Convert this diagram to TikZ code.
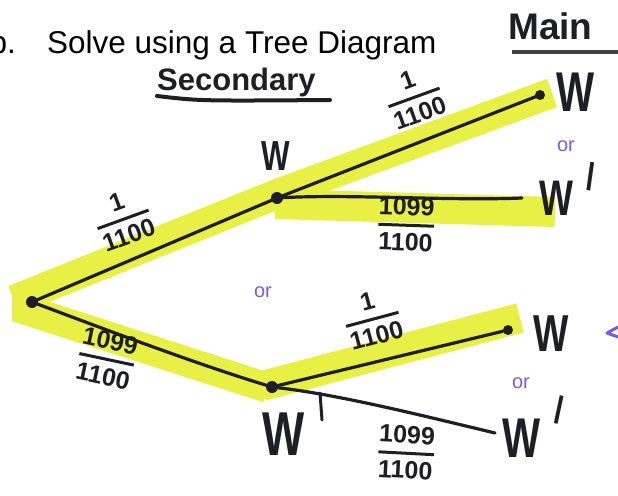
\documentclass[tikz,border=0pt]{standalone}
\usepackage{fontspec}
\setmainfont{Liberation Sans}
\definecolor{hl}{RGB}{232,240,70}
\definecolor{ink}{RGB}{30,30,38}
\definecolor{pur}{RGB}{125,90,215}
\newcommand{\hfr}[2]{{\setlength{\arrayrulewidth}{3pt}\setlength{\tabcolsep}{0pt}\begin{tabular}{@{}c@{}}#1\\[1pt]\hline\rule{0pt}{24pt}#2\end{tabular}}}
\newcommand{\hW}[1]{\scalebox{0.72}[1]{#1}}
\begin{document}
\begin{tikzpicture}[x=1pt,y=-1pt,
  band/.style={draw=hl,line width=30pt,line cap=butt,line join=round},
  br/.style={draw=ink,line width=3.2pt,line cap=round},
  dot/.style={circle,fill=ink,inner sep=0pt,minimum size=12pt},
  leafdot/.style={circle,fill=ink,inner sep=0pt,minimum size=10pt},
  hand/.style={text=ink,font=\bfseries\fontsize{#1}{#1}\selectfont,inner sep=0pt},
  frac/.style={text=ink,font=\bfseries\fontsize{25}{25}\selectfont,inner sep=0pt},
  orl/.style={text=pur,font=\fontsize{20}{20}\selectfont,inner sep=0pt}]
\useasboundingbox (0,0) rectangle (618,495);
% highlights
\draw[band] (14,300) -- (277,194) -- (552,93);
\draw[band] (275,204) -- (555,212);
\draw[band] (20,308) -- (268,388);
\draw[band] (262,386) -- (520,318);
\fill[hl] (12,285) rectangle (40,322);
% title
\node[anchor=base east,font=\fontsize{31.5}{32}\selectfont,inner sep=0pt] (tb) at (16,53) {b.};
\node[anchor=base west,font=\fontsize{31.5}{32}\selectfont,inner sep=0pt] (title) at (47,53) {Solve using a Tree Diagram};
% headings
\node[hand=37,anchor=base west] (main) at (508,40) {Main};
\draw[ink!85,line width=4pt] (512,52) -- (618,52);
\node[hand=31,anchor=base west] (sec) at (157,90) {Secondary};
\draw[ink,line width=4pt,line cap=round] (157,96) .. controls (200,101) .. (330,100);
% nodes
\node[dot] (r) at (32,302) {};
\node[dot] (u) at (277,198) {};
\node[dot] (d) at (272,387) {};
\node[leafdot] (uu) at (540,95) {};
\coordinate (ud) at (522,198);
\node[leafdot] (du) at (508,330) {};
\coordinate (dd) at (495,433);
% branches
\draw[br] (r) -- (u);
\draw[br] (u) -- (uu);
\draw[br] (u) .. controls (350,194) and (450,201) .. (ud);
\draw[br] (r) .. controls (120,335) and (200,365) .. (d);
\draw[br] (d) -- (du);
\draw[br] (d) .. controls (340,395) and (420,415) .. (dd);
\draw[ink,line width=3pt,line cap=round] (320,393) -- (322,420);
% labels
\node[hand=42] (lu) at (276,156) {\hW{W}};
\node[hand=56] (luu) at (576,92) {\hW{W}};
\node[hand=50] (lud) at (556,198) {\hW{W}};
\node[hand=30,rotate=-8] (ludp) at (591,177) {|};
\node[hand=52] (ldu) at (551,334) {\hW{W}};
\node[hand=56] (ldd) at (522,438) {\hW{W}};
\node[hand=30,rotate=-12] (lddp) at (559,410) {|};
\node[hand=62] (ld) at (284,434) {\hW{W}};
% fractions
\node[frac,rotate=20] (fa) at (124,222) {\hfr{1}{1100}};
\node[frac,rotate=20] (fb) at (415,100) {\hfr{1}{1100}};
\node[frac,rotate=-2] (fc) at (406,228) {\hfr{1099}{1100}};
\node[frac,rotate=-12] (fd) at (106,362) {\hfr{1099}{1100}};
\node[frac,rotate=15] (fe) at (373,322) {\hfr{1}{1100}};
\node[frac,rotate=-3] (ff) at (406,456) {\hfr{1099}{1100}};
% or
\node[orl] (o1) at (263,292) {or};
\node[orl] (o2) at (566,146) {or};
\node[orl] (o3) at (521,383) {or};
\draw[pur,line width=3pt,line cap=round,line join=round] (618,327) -- (607,333) -- (618,337);
\end{tikzpicture}
\end{document}
